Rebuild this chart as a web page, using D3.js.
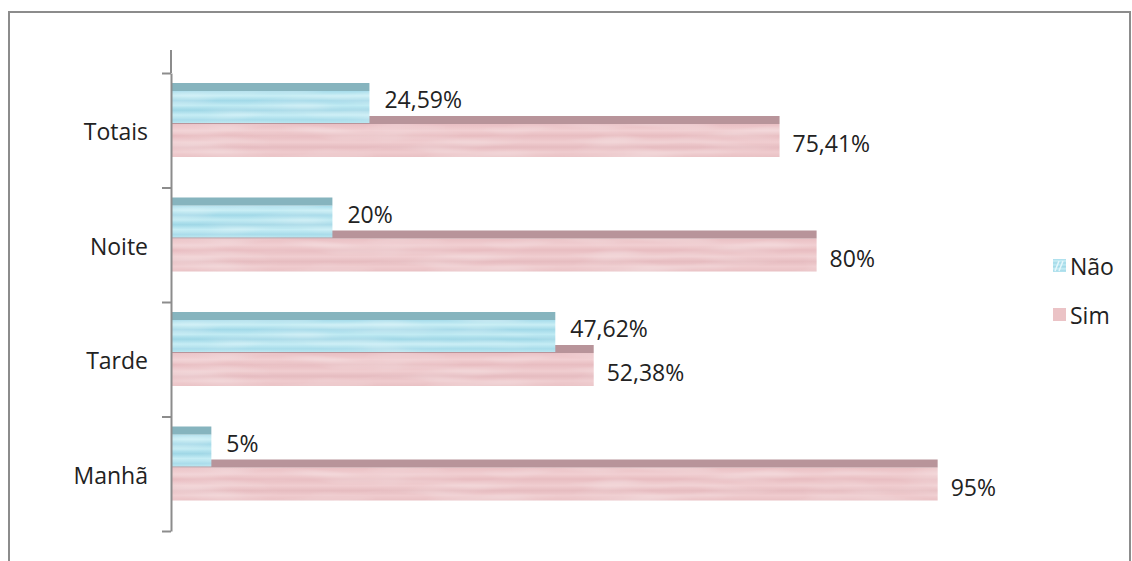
<!DOCTYPE html>
<html>
<head>
<meta charset="utf-8">
<script src="https://cdn.jsdelivr.net/npm/d3@7"></script>
<style>
  body { margin: 0; background: #fff; }
  text { font-family: "Open Sans", sans-serif; fill: #222; }
</style>
</head>
<body>
<div id="chart"></div>
<script>

var categories = ["Totais", "Noite", "Tarde", "Manhã"];
var series = ["Não", "Sim"];
var naoValues = [24.59, 20, 47.62, 5];
var simValues = [75.41, 80, 52.38, 95];
var naoLabels = ["24,59%", "20%", "47,62%", "5%"];
var simLabels = ["75,41%", "80%", "52,38%", "95%"];

var svg_width = 1132;
var svg_height = 561;
var axis_x = 171;
var font_size = 23;
var top_face = 8; // darker strip on top of each bar (3d look)

var svg = d3.select("#chart").append("svg")
  .attr("width", svg_width)
  .attr("height", svg_height);

// textures
var defs = svg.append("defs");

var naoGrad = defs.append("linearGradient").attr("id", "naoGrad")
  .attr("x1", 0).attr("y1", 0).attr("x2", 0).attr("y2", 1);
[[0, "#a6dceb"], [0.15, "#c9eef5"], [0.3, "#a2d9e8"], [0.45, "#bfeaf3"],
 [0.6, "#9fd7e6"], [0.75, "#c6edf5"], [0.9, "#a8dcea"], [1, "#b9e6f0"]]
  .forEach(function(s) { naoGrad.append("stop").attr("offset", s[0]).attr("stop-color", s[1]); });

var simGrad = defs.append("linearGradient").attr("id", "simGrad")
  .attr("x1", 0).attr("y1", 0).attr("x2", 0).attr("y2", 1);
[[0, "#e9bfc3"], [0.2, "#f1cfd2"], [0.35, "#e8bdc1"], [0.55, "#f0cdd0"],
 [0.7, "#e6bcc0"], [0.85, "#efcbce"], [1, "#e9c1c4"]]
  .forEach(function(s) { simGrad.append("stop").attr("offset", s[0]).attr("stop-color", s[1]); });

var tex = defs.append("filter").attr("id", "tex").attr("x", 0).attr("y", 0)
  .attr("width", 1).attr("height", 1);
tex.append("feTurbulence").attr("type", "fractalNoise")
  .attr("baseFrequency", "0.012 0.09").attr("numOctaves", 2).attr("seed", 4).attr("result", "noise");
tex.append("feColorMatrix").attr("in", "noise").attr("type", "matrix")
  .attr("values", "0 0 0 0 1  0 0 0 0 1  0 0 0 0 1  0 0 0 0.55 -0.22").attr("result", "light");
tex.append("feComposite").attr("in", "light").attr("in2", "SourceGraphic").attr("operator", "in").attr("result", "lightIn");
tex.append("feMerge").call(function(m) {
  m.append("feMergeNode").attr("in", "SourceGraphic");
  m.append("feMergeNode").attr("in", "lightIn");
});

// outer frame
svg.append("rect")
  .attr("x", 9).attr("y", 12)
  .attr("width", 1121).attr("height", 600)
  .attr("fill", "none")
  .attr("stroke", "#8c8c8c")
  .attr("stroke-width", 2);

var xScale = d3.scaleLinear()
  .domain([0, 100])
  .range([axis_x, axis_x + 807]);

var yScale = d3.scaleBand()
  .domain(categories)
  .range([73, 531]);

var inner = d3.scaleBand()
  .domain(series)
  .range([10, 76]);

var data = categories.map(function(c, i) {
  return {cat: c, nao: naoValues[i], sim: simValues[i], naoLabel: naoLabels[i], simLabel: simLabels[i]};
});

var groups = svg.selectAll(".cat")
  .data(data)
  .enter().append("g")
  .attr("class", "cat")
  .attr("transform", function(d) { return "translate(0," + yScale(d.cat) + ")"; });

// Sim bars first (behind)
groups.append("rect")
  .attr("x", axis_x)
  .attr("y", inner("Sim") + top_face)
  .attr("width", function(d) { return xScale(d.sim) - axis_x; })
  .attr("height", inner.bandwidth())
  .attr("fill", "url(#simGrad)")
  .attr("filter", "url(#tex)");
groups.append("rect")
  .attr("x", axis_x)
  .attr("y", inner("Sim"))
  .attr("width", function(d) { return xScale(d.sim) - axis_x; })
  .attr("height", top_face)
  .attr("fill", "#b8949a");

// Não bars
groups.append("rect")
  .attr("x", axis_x)
  .attr("y", inner("Não") + top_face)
  .attr("width", function(d) { return xScale(d.nao) - axis_x; })
  .attr("height", inner.bandwidth() - 1)
  .attr("fill", "url(#naoGrad)")
  .attr("filter", "url(#tex)");
groups.append("rect")
  .attr("x", axis_x)
  .attr("y", inner("Não"))
  .attr("width", function(d) { return xScale(d.nao) - axis_x; })
  .attr("height", top_face)
  .attr("fill", "#86b4be");

// value labels
groups.append("text")
  .attr("x", function(d) { return xScale(d.nao) + 15; })
  .attr("y", 26)
  .attr("dominant-baseline", "central")
  .attr("font-size", font_size)
  .text(function(d) { return d.naoLabel; });
groups.append("text")
  .attr("x", function(d) { return xScale(d.sim) + 13; })
  .attr("y", 70)
  .attr("dominant-baseline", "central")
  .attr("font-size", font_size)
  .text(function(d) { return d.simLabel; });

// category labels
groups.append("text")
  .attr("x", 148)
  .attr("y", 58)
  .attr("text-anchor", "end")
  .attr("dominant-baseline", "central")
  .attr("font-size", font_size)
  .text(function(d) { return d.cat; });

// axis: ticks at band edges
var tickScale = d3.scaleLinear().domain([0, categories.length]).range([73, 531]);
var axis = d3.axisLeft(tickScale)
  .ticks(categories.length)
  .tickSize(9)
  .tickSizeOuter(0)
  .tickFormat("");
var axisG = svg.append("g")
  .attr("transform", "translate(" + axis_x + ",0)")
  .call(axis);
axisG.selectAll("path, line").attr("stroke", "#8c8c8c").attr("stroke-width", 2);
axisG.append("line")
  .attr("x1", 0).attr("x2", 0).attr("y1", 50).attr("y2", 73)
  .attr("stroke", "#8c8c8c").attr("stroke-width", 2);

// legend
var legendFill = {"Não": "url(#naoGrad)", "Sim": "#ebc3c6"};
var legend = svg.selectAll(".legend")
  .data(series)
  .enter().append("g")
  .attr("class", "legend")
  .attr("transform", function(d, i) { return "translate(1053," + (266 + i * 49) + ")"; });
legend.append("rect")
  .attr("x", 0).attr("y", -7)
  .attr("width", 13).attr("height", 13)
  .attr("fill", function(d) { return legendFill[d]; });
legend.filter(function(d) { return d === "Não"; })
  .append("path")
  .attr("d", "M2,5 L6,-5 M6,5 L10,-5")
  .attr("stroke", "#e6f7fb").attr("stroke-width", 1.5);
legend.append("text")
  .attr("x", 17).attr("y", 0)
  .attr("dominant-baseline", "central")
  .attr("font-size", font_size)
  .text(function(d) { return d; });

</script>
</body>
</html>
